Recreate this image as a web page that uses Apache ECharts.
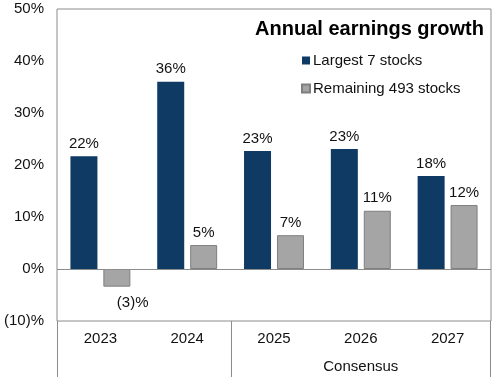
<!DOCTYPE html>
<html>
<head>
<meta charset="utf-8">
<script src="https://cdn.jsdelivr.net/npm/echarts@6/dist/echarts.min.js"></script>
<style>
  html, body { margin: 0; padding: 0; background: #fff; }
  #chart { width: 500px; height: 377px; }
</style>
</head>
<body>
<div id="chart"></div>
<script>
// data
const years = ['2023', '2024', '2025', '2026', '2027']
const largest7 = [21.7, 36.0, 22.7, 23.1, 17.9]
const largest7Labels = ['22%', '36%', '23%', '23%', '18%']
const remaining493 = [-3.4, 4.6, 6.5, 11.2, 12.3]
const remaining493Labels = ['(3)%', '5%', '7%', '11%', '12%']
const yTicks = [-10, 0, 10, 20, 30, 40, 50]

const font = 'Liberation Sans, Arial, sans-serif'
const navy = '#0e3a64'
const grey = '#a5a5a5'
const frame = '#8c8c8c'

// grid layout
const gridLeft = 57
const gridRight = 9
const gridTop = 9
const gridBottom = 56

const fmtTick = (v) => v < 0 ? '(' + Math.abs(v) + ')%' : v + '%'

const chart = echarts.init(document.getElementById('chart'))

const option = {
  animation: false,
  textStyle: { fontFamily: font },
  title: {
    text: 'Annual earnings growth',
    right: 11,
    top: 14,
    textStyle: { fontFamily: font, fontSize: 20, fontWeight: 'bold', color: '#000' }
  },
  legend: {
    orient: 'vertical',
    left: 296,
    top: 48,
    icon: 'rect',
    itemWidth: 8,
    itemHeight: 8,
    itemGap: 13,
    textStyle: { fontFamily: font, fontSize: 15, color: '#111', padding: [0, 0, 0, -2] },
    data: ['Largest 7 stocks', 'Remaining 493 stocks']
  },
  grid: {
    left: gridLeft,
    right: gridRight,
    top: gridTop,
    bottom: gridBottom,
    show: true,
    borderColor: frame,
    borderWidth: 1
  },
  xAxis: {
    type: 'category',
    data: years,
    axisLine: { show: false, onZero: false },
    axisTick: { show: false },
    axisLabel: { fontFamily: font, fontSize: 15, color: '#111', margin: 10 }
  },
  yAxis: {
    type: 'value',
    min: yTicks[0],
    max: yTicks[yTicks.length - 1],
    interval: 10,
    splitLine: { show: false },
    axisLine: { show: false },
    axisTick: { show: false },
    axisLabel: { fontFamily: font, fontSize: 15, color: '#111', margin: 13, formatter: fmtTick }
  },
  series: [
    {
      name: 'Largest 7 stocks',
      type: 'bar',
      data: largest7,
      barWidth: 27,
      barGap: '22%',
      itemStyle: { color: navy },
      label: {
        show: true,
        position: 'top',
        distance: 5,
        fontFamily: font,
        fontSize: 15,
        color: '#111',
        formatter: (p) => largest7Labels[p.dataIndex]
      },
      markLine: {
        silent: true,
        symbol: 'none',
        label: { show: false },
        lineStyle: { color: frame, type: 'solid', width: 1 },
        data: [{ yAxis: 0 }]
      }
    },
    {
      name: 'Remaining 493 stocks',
      type: 'bar',
      data: remaining493,
      barWidth: 27,
      itemStyle: { color: grey, borderColor: '#7f7f7f', borderWidth: 1 },
      label: {
        show: true,
        position: 'top',
        distance: 5,
        fontFamily: font,
        fontSize: 15,
        color: '#111',
        formatter: (p) => remaining493Labels[p.dataIndex]
      },
      labelLayout: (p) => {
        // negative value: put the label under the bar
        if (remaining493[p.dataIndex] < 0) {
          return { y: p.rect.y + p.rect.height + 9 }
        }
        return {}
      }
    }
  ]
}

chart.setOption(option)

// frame below the plot: outer sides, divider before forecasts, "Consensus" caption
const W = chart.getWidth()
const H = chart.getHeight()
const gBottom = H - gridBottom
const x1 = chart.convertToPixel({ xAxisIndex: 0 }, years[1])
const x2 = chart.convertToPixel({ xAxisIndex: 0 }, years[2])
const xDiv = Math.round((x1 + x2) / 2) + 0.5
const xLast = chart.convertToPixel({ xAxisIndex: 0 }, years[4])
const xL = gridLeft + 0.5
const xR = W - gridRight - 0.5

chart.setOption({
  graphic: [
    { type: 'line', shape: { x1: xL, y1: gBottom, x2: xL, y2: H }, style: { stroke: frame, lineWidth: 1 } },
    { type: 'line', shape: { x1: xR, y1: gBottom, x2: xR, y2: H }, style: { stroke: frame, lineWidth: 1 } },
    { type: 'line', shape: { x1: xDiv, y1: gBottom, x2: xDiv, y2: H }, style: { stroke: frame, lineWidth: 1 } },
    {
      type: 'text',
      x: (x2 + xLast) / 2,
      y: gBottom + 46,
      style: {
        text: 'Consensus',
        fontFamily: font,
        fontSize: 15,
        fill: '#111',
        align: 'center',
        verticalAlign: 'middle'
      }
    }
  ]
})
</script>
</body>
</html>
